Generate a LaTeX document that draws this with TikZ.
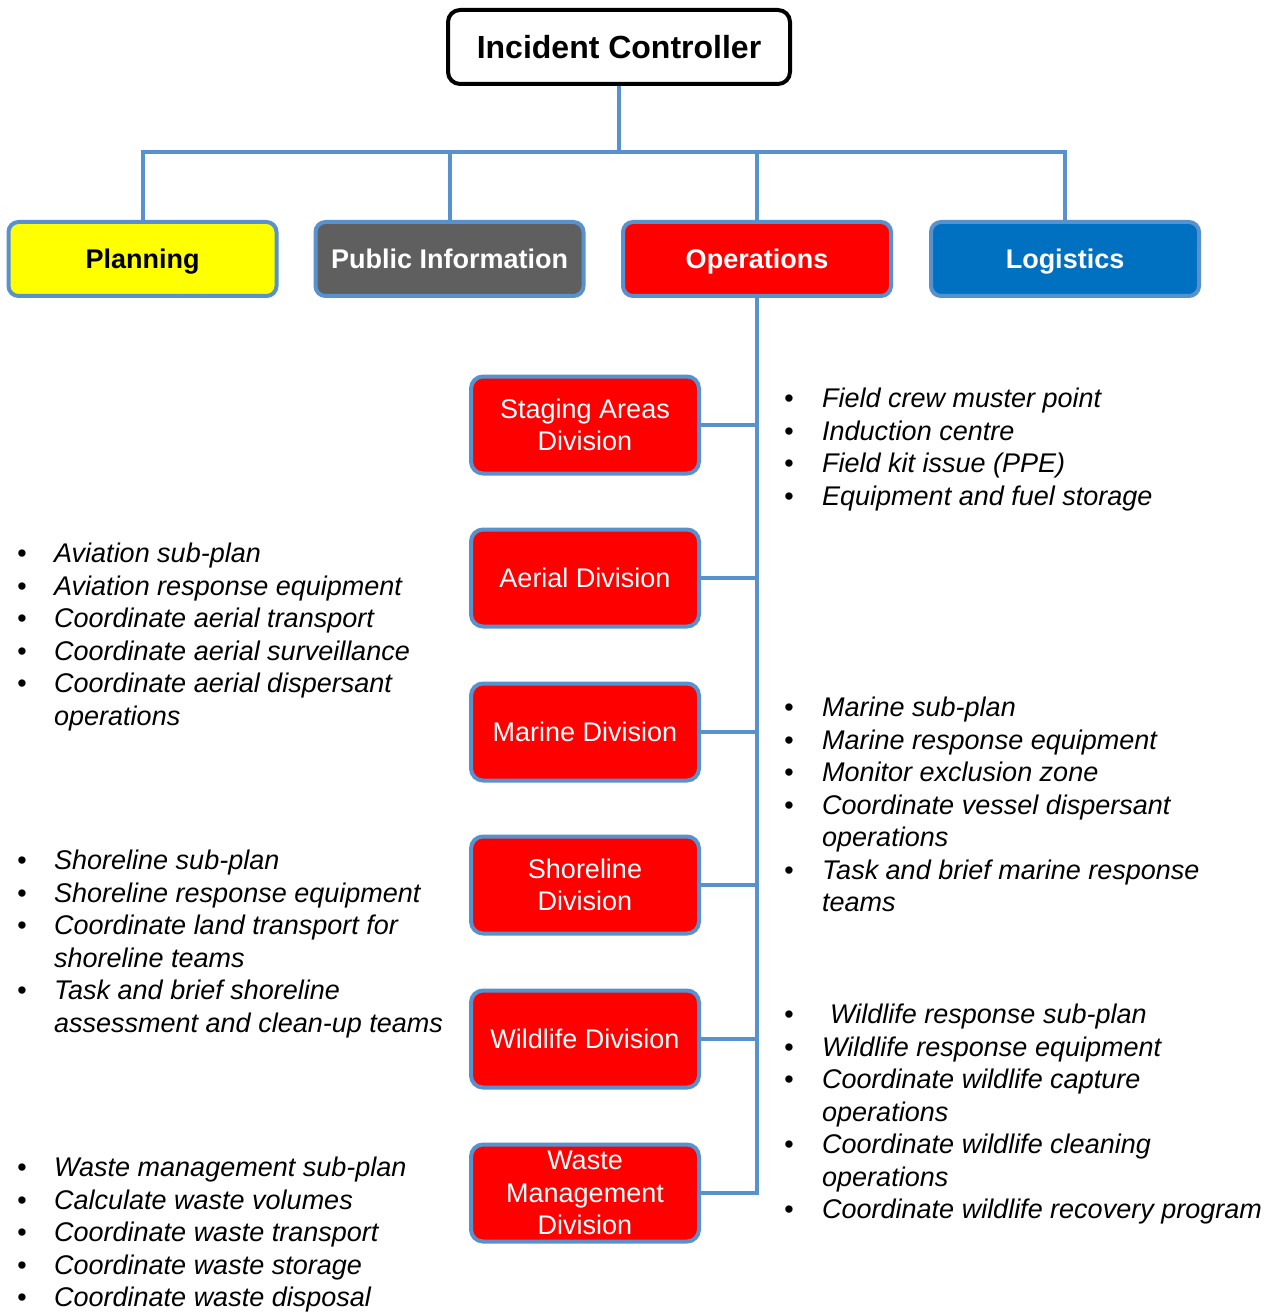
\documentclass[tikz,border=0pt]{standalone}
\usepackage{fontspec}
\setmainfont{Liberation Sans}
\definecolor{edgeblue}{RGB}{87,146,207}
\definecolor{plangold}{RGB}{255,255,0}
\definecolor{infogray}{RGB}{95,95,95}
\definecolor{opsred}{RGB}{255,0,0}
\definecolor{logblue}{RGB}{0,112,192}
\newcommand\rbl{\makebox[38pt][l]{•}}
\newcommand\rcont{\hspace*{38pt}}
\newcommand\lbl{\makebox[37pt][l]{•}}
\newcommand\lcont{\hspace*{37pt}}
\begin{document}
\begin{tikzpicture}[x=1pt,y=-1pt,
  conn/.style={draw=edgeblue,line width=4pt},
  topbox/.style={draw=edgeblue,line width=4pt,rounded corners=10pt,minimum width=268pt,minimum height=74pt,inner sep=0pt,text height=19.5pt,text depth=0pt,font=\fontsize{27}{32.5}\selectfont\bfseries,text=white},
  divbox/.style={draw=edgeblue,line width=4pt,rounded corners=12pt,fill=opsred,minimum width=228pt,minimum height=97pt,inner sep=0pt,align=center,text=white,font=\fontsize{27}{32.5}\selectfont},
  blist/.style={anchor=base west,inner sep=0pt,font=\fontsize{27}{32.5}\selectfont\itshape}]
\useasboundingbox (0,0) rectangle (1276,1313);
\fill[white] (0,0) rectangle (1276,1313);
% top level
\node[draw=black,line width=4pt,rounded corners=12pt,fill=white,minimum width=342pt,minimum height=74pt,inner sep=0pt,font=\fontsize{32}{38}\selectfont\bfseries] (ic) at (619,47) {Incident Controller};
\node[topbox,fill=plangold,text=black] (plan) at (142.5,259) {Planning};
\node[topbox,fill=infogray] (info) at (449.5,259) {Public Information};
\node[topbox,fill=opsred] (ops) at (757,259) {Operations};
\node[topbox,fill=logblue] (logi) at (1065,259) {Logistics};
\coordinate (bus) at (619,152);
\draw[conn] (ic.south) -- (bus);
\draw[conn] (plan.north) -- (plan.north |- bus) -- (logi.north |- bus) -- (logi.north);
\draw[conn] (info.north) -- (info.north |- bus);
\draw[conn] (ops.north) -- (ops.north |- bus);
% divisions
\node[divbox] (stag) at (585,425) {Staging Areas\\Division};
\node[divbox] (aer) at (585,578) {Aerial Division};
\node[divbox] (mar) at (585,732) {Marine Division};
\node[divbox] (sho) at (585,885) {Shoreline\\Division};
\node[divbox] (wil) at (585,1039) {Wildlife Division};
\node[divbox] (was) at (585,1193) {Waste\\Management\\Division};
\draw[conn] (ops.south) -- (ops.south |- was.east) -- (was.east);
\foreach \d in {stag,aer,mar,sho,wil} {
  \draw[conn] (\d.east) -- (\d.east -| ops.south);
}
% bullet lists right
\node[blist] (stagl) at (784,407.5) {\parbox[t]{480pt}{\rbl Field crew muster point\\
\rbl Induction centre\\
\rbl Field kit issue (PPE)\\
\rbl Equipment and fuel storage}};
\node[blist] (marl) at (784,716.5) {\parbox[t]{480pt}{\rbl Marine sub-plan\\
\rbl Marine response equipment\\
\rbl Monitor exclusion zone\\
\rbl Coordinate vessel dispersant\\
\rcont operations\\
\rbl Task and brief marine response\\
\rcont teams}};
\node[blist] (will) at (784,1023.5) {\parbox[t]{490pt}{\rbl\hspace{8pt}Wildlife response sub-plan\\
\rbl Wildlife response equipment\\
\rbl Coordinate wildlife capture\\
\rcont operations\\
\rbl Coordinate wildlife cleaning\\
\rcont operations\\
\rbl Coordinate wildlife recovery program}};
% bullet lists left
\node[blist] (aerl) at (17,562.5) {\parbox[t]{440pt}{\lbl Aviation sub-plan\\
\lbl Aviation response equipment\\
\lbl Coordinate aerial transport\\
\lbl Coordinate aerial surveillance\\
\lbl Coordinate aerial dispersant\\
\lcont operations}};
\node[blist] (shol) at (17,869.5) {\parbox[t]{440pt}{\lbl Shoreline sub-plan\\
\lbl Shoreline response equipment\\
\lbl Coordinate land transport for\\
\lcont shoreline teams\\
\lbl Task and brief shoreline\\
\lcont assessment and clean-up teams}};
\node[blist] (wasl) at (17,1176.5) {\parbox[t]{440pt}{\lbl Waste management sub-plan\\
\lbl Calculate waste volumes\\
\lbl Coordinate waste transport\\
\lbl Coordinate waste storage\\
\lbl Coordinate waste disposal}};
\end{tikzpicture}
\end{document}
